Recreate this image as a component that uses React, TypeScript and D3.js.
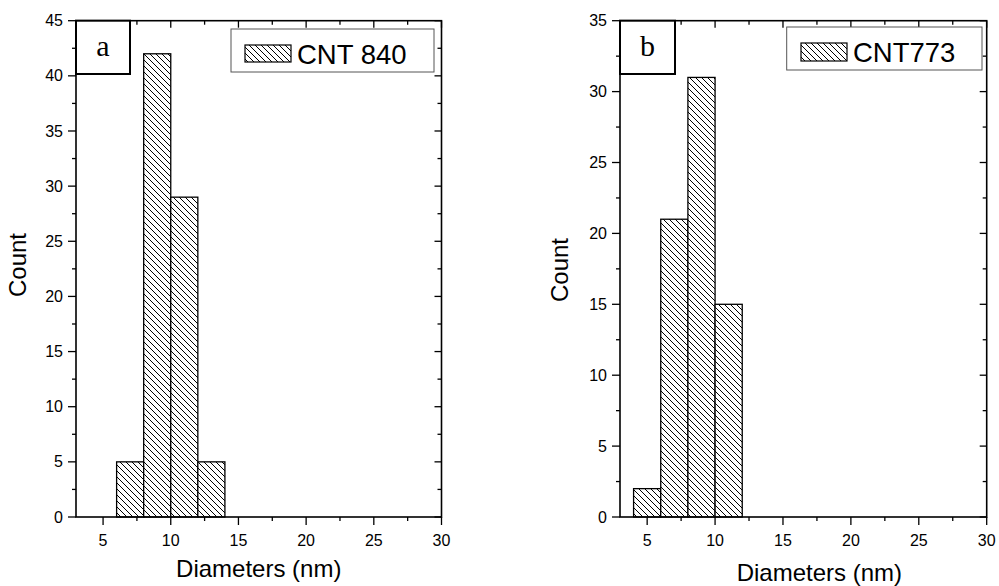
import React from "react";
import * as d3 from "d3";

const binsA = [6, 8, 10, 12];
const countsA = [5, 42, 29, 5];
const binsB = [4, 6, 8, 10];
const countsB = [2, 21, 31, 15];
const binWidth = 2;
const xTicks = [5, 10, 15, 20, 25, 30];
const yTicksA = [0, 5, 10, 15, 20, 25, 30, 35, 40, 45];
const yTicksB = [0, 5, 10, 15, 20, 25, 30, 35];

type PanelProps = {
  id: string;
  left: number;
  right: number;
  yMax: number;
  yTicks: number[];
  bins: number[];
  counts: number[];
  letter: string;
  legend: string;
  labelBoxRight: number;
  labelBoxBottom: number;
  legendBox: [number, number, number, number];
  swatch: [number, number, number, number];
  countY: number;
  countX: number;
  titleY: number;
};

function Panel(p: PanelProps) {
  const top = 20.7;
  const bottom = 517;
  const x = d3.scaleLinear().domain([3, 30]).range([p.left, p.right]);
  const y = d3.scaleLinear().domain([0, p.yMax]).range([bottom, top]);
  const xMinor = d3.range(5, 30.01, 2.5);
  const yMinor = d3.range(0, p.yMax + 0.01, 2.5);
  const font = "'Liberation Sans', Arial, sans-serif";
  const fill = `url(#hatch-${p.id})`;
  return (
    <g>
      <defs>
        <pattern id={`hatch-${p.id}`} patternUnits="userSpaceOnUse" width={6} height={6}>
          <rect width={6} height={6} fill="#fff" />
          <path d="M-1,-1 L7,7 M-1,5 L1,7 M5,-1 L7,1" stroke="#000" strokeWidth={1} />
        </pattern>
      </defs>
      {/* bars */}
      {p.bins.map((b, i) => (
        <rect
          key={i}
          x={x(b)}
          y={y(p.counts[i])}
          width={x(b + binWidth) - x(b)}
          height={y(0) - y(p.counts[i])}
          fill={fill}
          stroke="#000"
          strokeWidth={1.3}
        />
      ))}
      {/* frame */}
      <rect x={p.left} y={top} width={p.right - p.left} height={bottom - top} fill="none" stroke="#000" strokeWidth={1.6} />
      {/* bottom ticks (outward) and top ticks (inward) */}
      {xMinor.map((t) => {
        const major = Math.abs(t % 5) < 1e-6;
        return (
          <g key={`x${t}`}>
            <line x1={x(t)} x2={x(t)} y1={bottom} y2={bottom + (major ? 8 : 4)} stroke="#000" strokeWidth={1.3} />
            <line x1={x(t)} x2={x(t)} y1={top} y2={top + (major ? 7 : 4)} stroke="#000" strokeWidth={1.3} />
          </g>
        );
      })}
      {xTicks.map((t) => (
        <text key={`xl${t}`} x={x(t)} y={bottom + 29} textAnchor="middle" fontFamily={font} fontSize={16}>
          {t}
        </text>
      ))}
      {/* left ticks (outward) and right ticks (inward) */}
      {yMinor.map((t) => {
        const major = Math.abs(t % 5) < 1e-6;
        return (
          <g key={`y${t}`}>
            <line x1={p.left} x2={p.left - (major ? 8 : 4)} y1={y(t)} y2={y(t)} stroke="#000" strokeWidth={1.3} />
            <line x1={p.right} x2={p.right - (major ? 7 : 4)} y1={y(t)} y2={y(t)} stroke="#000" strokeWidth={1.3} />
          </g>
        );
      })}
      {p.yTicks.map((t) => (
        <text key={`yl${t}`} x={p.left - 13} y={y(t)} dy="0.35em" textAnchor="end" fontFamily={font} fontSize={16}>
          {t}
        </text>
      ))}
      {/* axis titles */}
      <text x={(p.left + p.right) / 2 + (p.id === "b" ? 16 : 0)} y={p.titleY} textAnchor="middle" fontFamily={font} fontSize={24}>
        Diameters (nm)
      </text>
      <text
        transform={`translate(${p.countX},${p.countY}) rotate(-90)`}
        textAnchor="middle"
        fontFamily={font}
        fontSize={24}
      >
        Count
      </text>
      {/* panel letter box */}
      <rect x={p.left} y={top} width={p.labelBoxRight - p.left} height={p.labelBoxBottom - top} fill="#fff" stroke="#000" strokeWidth={2} />
      <text
        x={(p.left + p.labelBoxRight) / 2}
        y={(top + p.labelBoxBottom) / 2 + 9}
        textAnchor="middle"
        fontFamily="'Liberation Serif', 'Times New Roman', serif"
        fontSize={30}
      >
        {p.letter}
      </text>
      {/* legend */}
      <rect
        x={p.legendBox[0]}
        y={p.legendBox[1]}
        width={p.legendBox[2] - p.legendBox[0]}
        height={p.legendBox[3] - p.legendBox[1]}
        fill="#fff"
        stroke="#555"
        strokeWidth={1}
      />
      <rect
        x={p.swatch[0]}
        y={p.swatch[1]}
        width={p.swatch[2] - p.swatch[0]}
        height={p.swatch[3] - p.swatch[1]}
        fill={fill}
        stroke="#000"
        strokeWidth={1.2}
      />
      <text x={p.swatch[2] + 6} y={(p.swatch[1] + p.swatch[3]) / 2 + 10} fontFamily={font} fontSize={27.5}>
        {p.legend}
      </text>
    </g>
  );
}

export default function App() {
  return (
    <svg width={999} height={586} style={{ position: "absolute", left: 0, top: 0, background: "#fff" }}>
      <rect width={999} height={586} fill="#fff" />
      <Panel
        id="a"
        left={76}
        right={441.5}
        yMax={45}
        yTicks={yTicksA}
        bins={binsA}
        counts={countsA}
        letter="a"
        legend="CNT 840"
        labelBoxRight={130}
        labelBoxBottom={74}
        legendBox={[231, 29, 434, 72]}
        swatch={[245, 45, 291, 62]}
        countX={26}
        countY={265}
        titleY={577}
      />
      <Panel
        id="b"
        left={620}
        right={986.7}
        yMax={35}
        yTicks={yTicksB}
        bins={binsB}
        counts={countsB}
        letter="b"
        legend="CNT773"
        labelBoxRight={675}
        labelBoxBottom={74}
        legendBox={[786.7, 27, 982, 70]}
        swatch={[801, 43, 847, 61]}
        countX={568}
        countY={270}
        titleY={581}
      />
    </svg>
  );
}
